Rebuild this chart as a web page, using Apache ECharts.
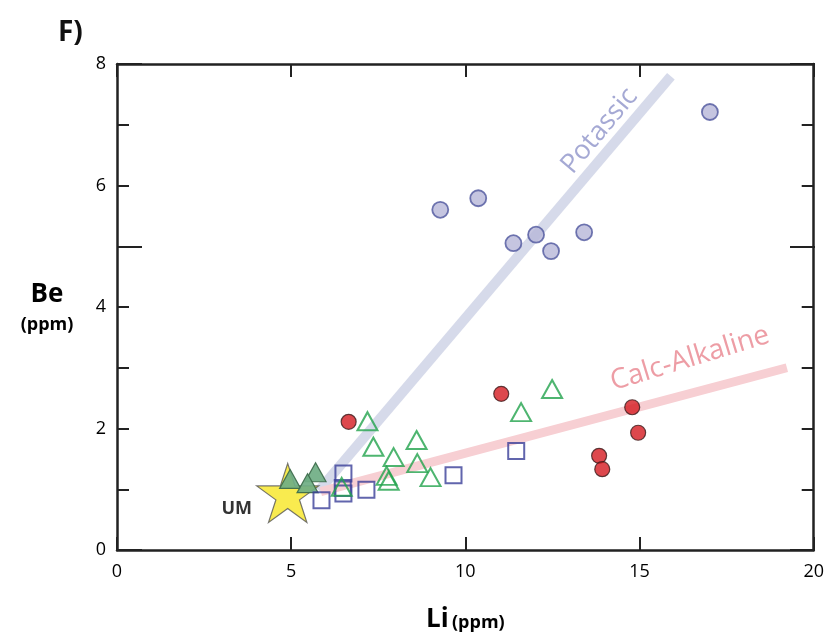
<!DOCTYPE html>
<html>
<head>
<meta charset="utf-8">
<script src="https://cdn.jsdelivr.net/npm/echarts@6/dist/echarts.min.js"></script>
<style>
html,body{margin:0;padding:0;background:#fff;}
#chart{width:827px;height:639px;}
</style>
</head>
<body>
<div id="chart"></div>
<script>
// Be vs Li (ppm) for the sample groups
const potassicPts = [[9.28,5.60],[10.37,5.79],[11.38,5.05],[12.03,5.19],[12.46,4.92],[13.41,5.23],[17.02,7.21]];
const redPts = [[6.65,2.11],[11.03,2.57],[14.79,2.35],[14.96,1.93],[13.84,1.55],[13.93,1.33]];
const openTriPts = [[7.19,2.12],[7.36,1.70],[7.94,1.53],[8.60,1.81],[8.62,1.43],[7.74,1.22],[7.80,1.14],[9.00,1.20],[6.45,1.04],[11.60,2.27],[12.49,2.65]];
const filledTriPts = [[4.97,1.17],[5.70,1.28],[5.47,1.10]];
const squarePts = [[6.50,1.26],[6.48,1.02],[6.50,0.93],[5.87,0.82],[7.16,0.99],[9.66,1.23],[11.46,1.63]];
const umPt = [[4.90,0.94]];
// trend lines
const potassicLine = [[5.80,0.98],[15.90,7.80]];
const calcAlkLine = [[5.85,0.96],[19.23,3.00]];
// line labels placed along the trends
const potassicLabelPt = [[13.85,6.90]];
const calcAlkLabelPt = [[16.45,3.15]];
const yTickLabels = {0:'0',2:'2',4:'4',6:'6',8:'8'};

const FONT = 'Open Sans, Lato, sans-serif';
const AX = '#222';
const STAR = 'path://M100,0 L122.45,69.1 L195.11,69.1 L136.33,111.8 L158.78,180.9 L100,138.2 L41.22,180.9 L63.67,111.8 L4.89,69.1 L77.55,69.1 Z';
const GRID = {left:117, right:12, top:64, bottom:89};

const chart = echarts.init(document.getElementById('chart'));

function yAx(extra){
  return Object.assign({
    type:'value', min:0, max:8, interval:1,
    axisLine:{show:true, onZero:false, lineStyle:{color:AX, width:2.5}},
    axisTick:{show:true, inside:true, length:12, lineStyle:{color:AX, width:2}},
    axisLabel:{show:false},
    splitLine:{show:false}
  }, extra);
}
// long ticks at 5 live on a second, overlapping grid
const longTick = {show:true, inside:true, length:25, lineStyle:{color:AX, width:2}};

chart.setOption({
  animation:false,
  backgroundColor:'#fff',
  title:{text:'F)', left:53, top:14, textStyle:{fontFamily:FONT, fontSize:28, fontWeight:'bold', color:'#111'}},
  grid:[Object.assign({}, GRID), Object.assign({}, GRID)],
  xAxis:[
    {gridIndex:0, type:'value', min:0, max:20, interval:5, position:'bottom',
     axisLine:{show:true, onZero:false, lineStyle:{color:AX, width:2.5}},
     axisTick:{show:true, inside:true, length:13, lineStyle:{color:AX, width:2}},
     axisLabel:{fontFamily:FONT, fontSize:18, color:'#000', margin:13},
     splitLine:{show:false},
     name:'{a|Li} {b|(ppm)}', nameLocation:'middle', nameGap:57,
     nameTextStyle:{rich:{a:{fontFamily:FONT, fontSize:26, fontWeight:'bold', color:'#000'},
                          b:{fontFamily:FONT, fontSize:18, fontWeight:'bold', color:'#000', padding:[6,0,0,0]}}}},
    {gridIndex:0, type:'value', min:0, max:20, interval:5, position:'top',
     axisLine:{show:true, onZero:false, lineStyle:{color:AX, width:2.5}},
     axisTick:{show:true, inside:true, length:13, lineStyle:{color:AX, width:2}},
     axisLabel:{show:false}, splitLine:{show:false}},
    {gridIndex:1, type:'value', min:0, max:20, show:false}
  ],
  yAxis:[
    yAx({gridIndex:0, position:'left',
      axisLabel:{show:true, fontFamily:FONT, fontSize:18, color:'#000', margin:11,
                 formatter:v => yTickLabels[v] !== undefined ? yTickLabels[v] : ''},
      name:'{a|Be}\n{b|(ppm)}', nameLocation:'middle', nameGap:70, nameRotate:0,
      nameTextStyle:{align:'center',
        rich:{a:{fontFamily:FONT, fontSize:26, fontWeight:'bold', color:'#000', lineHeight:36},
              b:{fontFamily:FONT, fontSize:18, fontWeight:'bold', color:'#000', lineHeight:24}}}}),
    yAx({gridIndex:0, position:'right'}),
    yAx({gridIndex:1, position:'left', interval:5, axisLine:{show:false}, axisTick:longTick}),
    yAx({gridIndex:1, position:'right', interval:5, axisLine:{show:false}, axisTick:longTick})
  ],
  series:[
    {type:'line', data:potassicLine, symbol:'none', z:1, silent:true,
     lineStyle:{color:'#d6daea', width:10, cap:'butt'}},
    {type:'line', data:calcAlkLine, symbol:'none', z:1, silent:true,
     lineStyle:{color:'#f7cfd3', width:9, cap:'butt'}},
    {type:'scatter', data:potassicLabelPt, symbolSize:0, z:2,
     label:{show:true, position:'inside', rotate:50, formatter:'Potassic',
            fontFamily:FONT, fontSize:27, color:'#8e94c9'}},
    {type:'scatter', data:calcAlkLabelPt, symbolSize:0, z:2,
     label:{show:true, position:'inside', rotate:17, formatter:'Calc-Alkaline',
            fontFamily:FONT, fontSize:28, color:'#e9858e'}},
    {type:'scatter', data:umPt, symbol:STAR, symbolSize:[62,59], z:3,
     itemStyle:{color:'#f7e623', borderColor:'#555', borderWidth:1.2},
     label:{show:true, position:'left', distance:4, offset:[0,16], formatter:'UM',
            fontFamily:FONT, fontSize:18, fontWeight:'bold', color:'#000'}},
    {type:'scatter', data:filledTriPts, symbol:'triangle', symbolSize:[21,19], z:4,
     itemStyle:{color:'#6fae84', borderColor:'#3d6b4b', borderWidth:1.2, opacity:0.92}},
    {type:'scatter', data:squarePts, symbol:'rect', symbolSize:16, z:5,
     itemStyle:{color:'rgba(255,255,255,0)', borderColor:'#3a3e98', borderWidth:2}},
    {type:'scatter', data:openTriPts, symbol:'triangle', symbolSize:[20,18], z:6,
     itemStyle:{color:'rgba(255,255,255,0)', borderColor:'#22a24c', borderWidth:2}},
    {type:'scatter', data:redPts, symbol:'circle', symbolSize:15, z:6,
     itemStyle:{color:'#d51a21', borderColor:'#3b1c1c', borderWidth:1.2}},
    {type:'scatter', data:potassicPts, symbol:'circle', symbolSize:16, z:6,
     itemStyle:{color:'#b6b7d8', borderColor:'#4f569e', borderWidth:1.8}}
  ]
});
</script>
</body>
</html>
